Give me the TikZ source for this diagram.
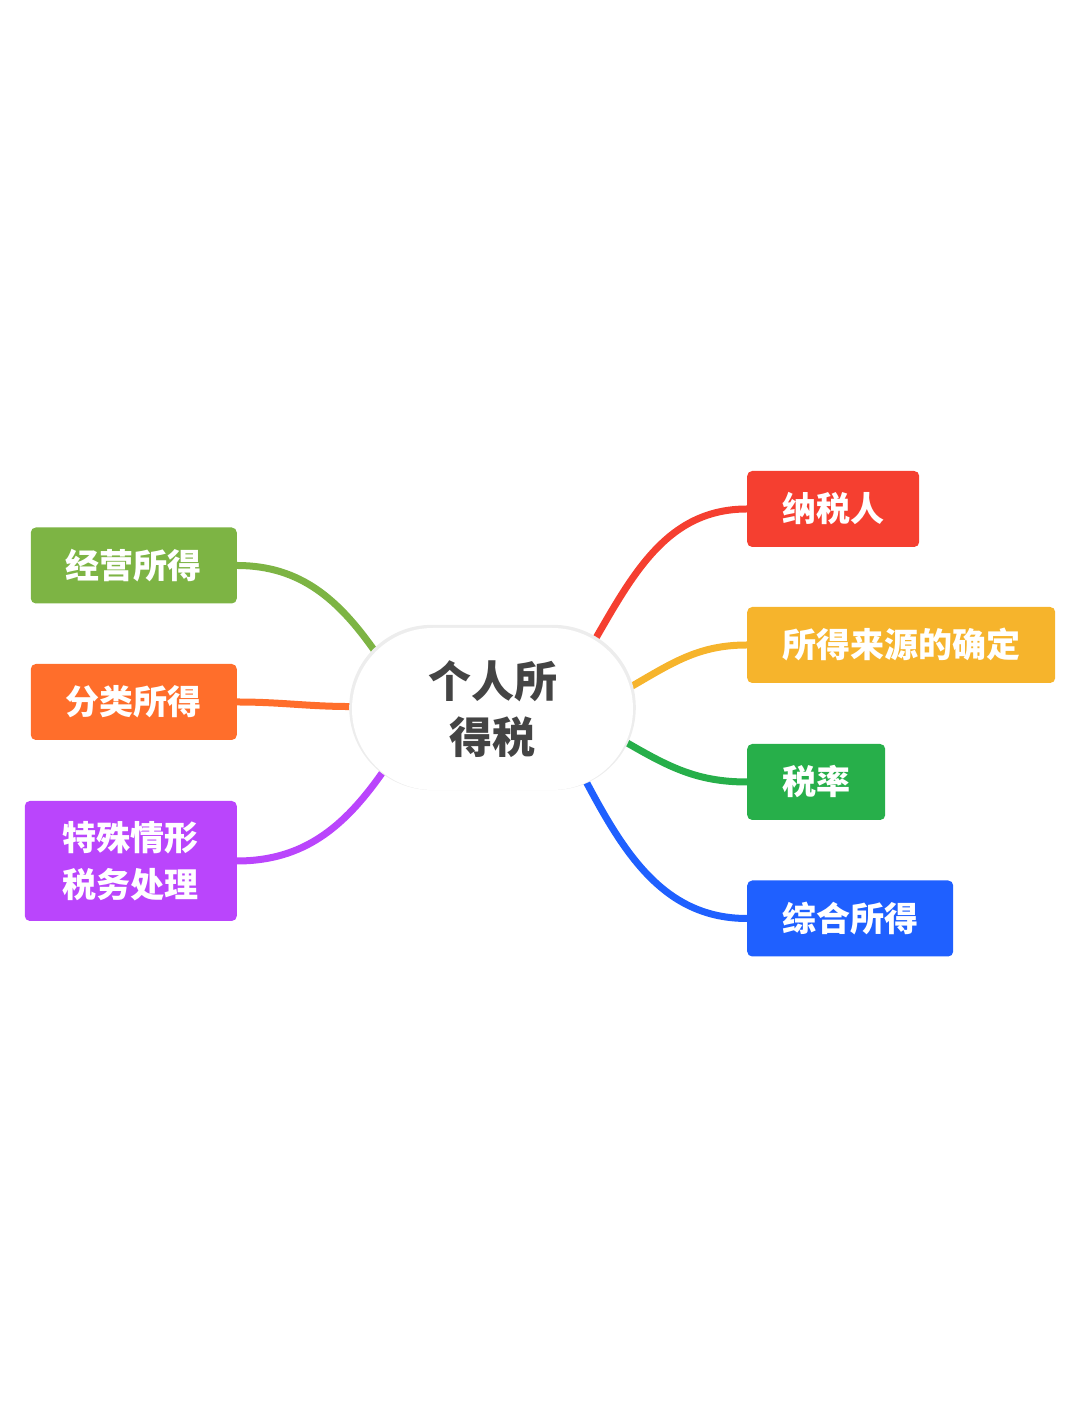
\documentclass[tikz,border=0pt]{standalone}
\usepackage{fontspec}
\newfontfamily\cjk{Noto Sans CJK SC}
\usepackage{tikz}
\usetikzlibrary{shapes.misc,shadows,backgrounds}
\definecolor{ink}{HTML}{444444}
\definecolor{halo}{HTML}{EDEDED}
\definecolor{leaf}{HTML}{7DB444}
\definecolor{tang}{HTML}{FF6E2B}
\definecolor{plum}{HTML}{BA45FC}
\definecolor{tomato}{HTML}{F53F30}
\definecolor{amber}{HTML}{F6B42C}
\definecolor{grass}{HTML}{27AF4A}
\definecolor{sky}{HTML}{1F60FF}
\tikzset{
  topic/.style={shape=rounded rectangle,fill=white,minimum width=281pt,minimum height=162pt,
    inner sep=0pt,align=center,text=ink,font=\cjk\bfseries\fontsize{43}{56}\selectfont,
    general shadow={fill=halo,shadow scale=1.02,shadow yshift=1.5pt}},
  branch/.style={rounded corners=5pt,text=white,minimum height=76pt,inner xsep=35pt,inner ysep=0pt,
    font=\cjk\bfseries\fontsize{34}{47}\selectfont},
  link/.style={line width=7pt}
}

\begin{document}
\begin{tikzpicture}[x=1pt,y=1pt]
  \useasboundingbox (0,0) rectangle (1080,1427);
  \node[topic] (root) at (492.5,718) {个人所\\得税};
  % left side
  \node[branch,fill=leaf,anchor=east] (jy) at (237,861.5) {经营所得};
  \node[branch,fill=tang,anchor=east] (fl) at (237,725) {分类所得};
  \node[branch,fill=plum,anchor=east,minimum width=212pt,minimum height=120pt,align=center] (ts) at (237,566) {特殊情形\\税务处理};
  % right side
  \node[branch,fill=tomato,anchor=west] (nsr) at (747,918) {纳税人};
  \node[branch,fill=amber,anchor=west] (ly) at (747,782) {所得来源的确定};
  \node[branch,fill=grass,anchor=west] (sl) at (747,645) {税率};
  \node[branch,fill=sky,anchor=west] (zh) at (747,508.5) {综合所得};
  \begin{pgfonlayer}{background}
    \draw[link,leaf] (jy.east) to[out=0,in=125] (root.154);
    \draw[link,tang] (fl.east) to[out=0,in=180] (root.179);
    \draw[link,plum] (ts.east) to[out=0,in=235] (root.210);
    \draw[link,tomato] (nsr.west) to[out=180,in=60] (root.34);
    \draw[link,amber] (ly.west) to[out=180,in=30] (root.9);
    \draw[link,grass] (sl.west) to[out=180,in=-30] (root.-14);
    \draw[link,sky] (zh.west) to[out=180,in=-62] (root.-38);
  \end{pgfonlayer}
\end{tikzpicture}
\end{document}
